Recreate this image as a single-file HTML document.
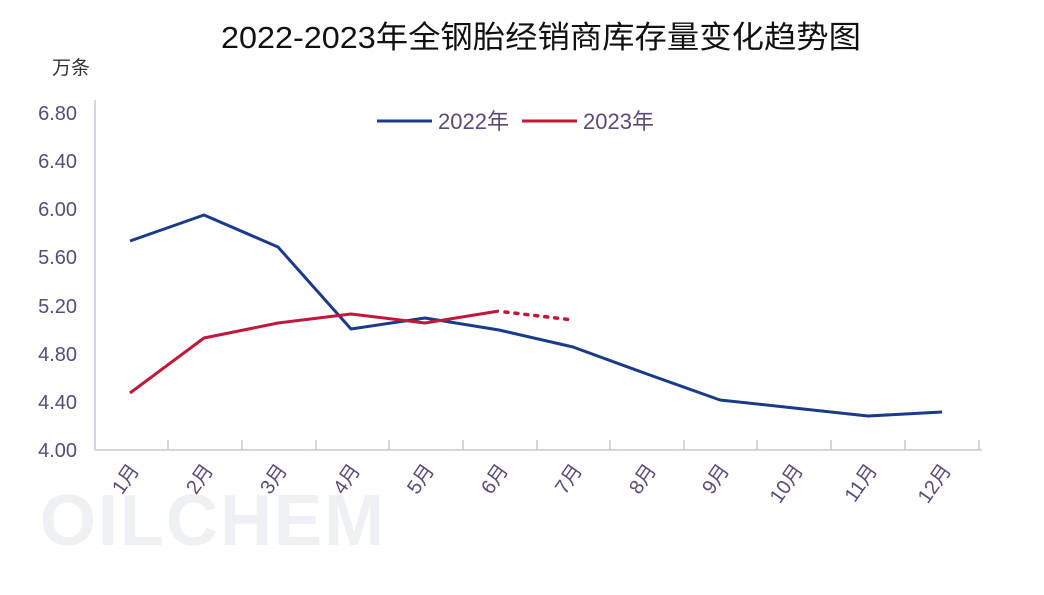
<!DOCTYPE html>
<html><head><meta charset="utf-8"><style>
body{margin:0;background:#fff;}
svg text{font-family:"Liberation Sans","Noto Sans CJK SC",sans-serif;}
</style></head><body>
<svg width="1044" height="590" viewBox="0 0 1044 590" xmlns="http://www.w3.org/2000/svg">
<rect width="1044" height="590" fill="#fff"/>
<text x="541" y="48" font-size="31" text-anchor="middle" fill="#111" textLength="640" lengthAdjust="spacingAndGlyphs">2022-2023年全钢胎经销商库存量变化趋势图</text>
<text x="52" y="74" font-size="19" fill="#333">万条</text>
<g font-size="20" fill="#5a4a78" text-anchor="end">
<text x="77" y="120">6.80</text><text x="77" y="168">6.40</text><text x="77" y="216">6.00</text>
<text x="77" y="264">5.60</text><text x="77" y="313">5.20</text><text x="77" y="361">4.80</text>
<text x="77" y="409">4.40</text><text x="77" y="457">4.00</text>
</g>
<line x1="95" y1="100" x2="95" y2="450" stroke="#c8c8d0" stroke-width="1.5"/>
<line x1="95" y1="450" x2="982" y2="450" stroke="#c8c8d0" stroke-width="1.5"/>
<g stroke="#c8c8d0" stroke-width="1.5">
<line x1="168" y1="440" x2="168" y2="450"/><line x1="242" y1="440" x2="242" y2="450"/><line x1="316" y1="440" x2="316" y2="450"/>
<line x1="389" y1="440" x2="389" y2="450"/><line x1="463" y1="440" x2="463" y2="450"/><line x1="537" y1="440" x2="537" y2="450"/>
<line x1="610" y1="440" x2="610" y2="450"/><line x1="684" y1="440" x2="684" y2="450"/><line x1="757" y1="440" x2="757" y2="450"/>
<line x1="831" y1="440" x2="831" y2="450"/><line x1="905" y1="440" x2="905" y2="450"/><line x1="979" y1="440" x2="979" y2="450"/>
</g>
<text x="40" y="545" font-size="72" font-weight="bold" fill="#eef0f3" letter-spacing="2">OILCHEM</text>
<g font-size="20" fill="#5a4a78" text-anchor="end">
<text transform="translate(140,470) rotate(-55)">1月</text>
<text transform="translate(214,470) rotate(-55)">2月</text>
<text transform="translate(288,470) rotate(-55)">3月</text>
<text transform="translate(361,470) rotate(-55)">4月</text>
<text transform="translate(435,470) rotate(-55)">5月</text>
<text transform="translate(509,470) rotate(-55)">6月</text>
<text transform="translate(583,470) rotate(-55)">7月</text>
<text transform="translate(657,470) rotate(-55)">8月</text>
<text transform="translate(730,470) rotate(-55)">9月</text>
<text transform="translate(804,470) rotate(-55)">10月</text>
<text transform="translate(878,470) rotate(-55)">11月</text>
<text transform="translate(952,470) rotate(-55)">12月</text>
</g>
<line x1="377" y1="121" x2="432" y2="121" stroke="#1a3a8a" stroke-width="3"/>
<text x="438" y="129" font-size="22" fill="#5a4a78">2022年</text>
<line x1="522" y1="121" x2="577" y2="121" stroke="#c0173a" stroke-width="3"/>
<text x="583" y="129" font-size="22" fill="#5a4a78">2023年</text>
<polyline fill="none" stroke="#1a3a8a" stroke-width="3" stroke-linejoin="round" points="130,241 204,215 278,247 351,329 425,318 499,330 573,347 647,374 720,400 794,408 868,416 942,412"/>
<polyline fill="none" stroke="#c0173a" stroke-width="3" stroke-linejoin="round" points="130,393 204,338 278,323 351,314 425,323 499,311"/>
<line x1="505" y1="312" x2="573" y2="320" stroke="#c0173a" stroke-width="3.5" stroke-dasharray="3,7" stroke-linecap="round"/>
</svg>
</body></html>
